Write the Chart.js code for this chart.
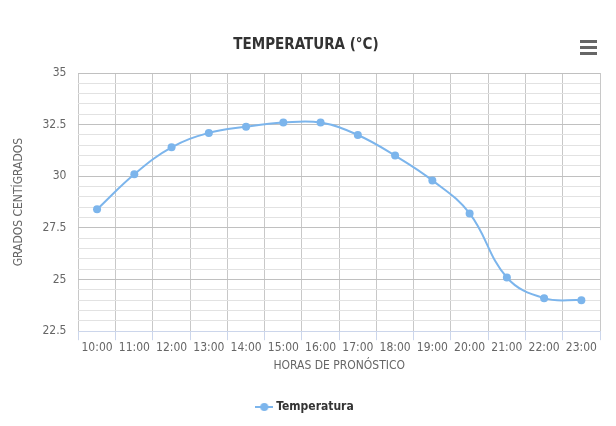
<!DOCTYPE html>
<html lang="es">
<head>
    <meta charset="UTF-8">
    <title>Temperatura</title>
    <script src="https://cdn.jsdelivr.net/npm/chart.js@4.4.0/dist/chart.umd.min.js"></script>
    <style>
        body { margin: 0; background: #fff; }
        #wrap { position: relative; width: 616px; height: 426px; }
        .menu { position: absolute; left: 580px; top: 40px; width: 17px; }
        .menu span { display: block; height: 3px; background: #666; margin-bottom: 3px; }
    </style>
</head>
<body>
    <div id="wrap">
        <canvas id="tempChart"></canvas>
        <div class="menu"><span></span><span></span><span></span></div>
    </div>

    <script>
        const horas = ['10:00', '11:00', '12:00', '13:00', '14:00', '15:00', '16:00',
                       '17:00', '18:00', '19:00', '20:00', '21:00', '22:00', '23:00'];
        const temperatura = [28.4, 30.1, 31.4, 32.1, 32.4, 32.6, 32.6,
                             32.0, 31.0, 29.8, 28.2, 25.1, 24.1, 24.0];
        const yMin = 22.5;
        const yMax = 35;

        const FONT = "'Liberation Sans Narrow', 'DejaVu Sans Condensed', sans-serif";
        const lineColor = '#7cb5ec';

        // small legend icon: line with a dot in the middle
        function legendIcon() {
            const c = document.createElement('canvas');
            c.width = 18; c.height = 10;
            const g = c.getContext('2d');
            g.strokeStyle = lineColor;
            g.lineWidth = 2;
            g.beginPath(); g.moveTo(0, 5); g.lineTo(18, 5); g.stroke();
            g.fillStyle = lineColor;
            g.beginPath(); g.arc(9, 5, 4, 0, Math.PI * 2); g.fill();
            return c;
        }

        function isMajor(v) {
            return Math.abs(v / 2.5 - Math.round(v / 2.5)) < 1e-6;
        }

        const ctx = document.getElementById('tempChart');
        new Chart(ctx, {
            type: 'line',
            data: {
                labels: horas,
                datasets: [{
                    label: 'Temperatura',
                    data: temperatura,
                    borderColor: lineColor,
                    backgroundColor: lineColor,
                    borderWidth: 2,
                    tension: 0.4,
                    pointRadius: 4,
                    pointBackgroundColor: lineColor,
                    pointBorderWidth: 0
                }]
            },
            options: {
                responsive: true,
                maintainAspectRatio: false,
                animation: false,
                layout: { padding: { left: 12, right: 16, top: 36, bottom: 3 } },
                plugins: {
                    title: {
                        display: true,
                        text: 'TEMPERATURA (°C)',
                        color: '#333',
                        font: { family: FONT, size: 15, weight: 'bold' },
                        padding: { top: 0, bottom: 19 }
                    },
                    legend: {
                        position: 'bottom',
                        labels: {
                            color: '#333',
                            font: { family: FONT, size: 12, weight: 'bold' },
                            usePointStyle: true,
                            padding: 14,
                            generateLabels: function(chart) {
                                const items = Chart.defaults.plugins.legend.labels.generateLabels(chart);
                                items.forEach(it => { it.pointStyle = legendIcon(); });
                                return items;
                            }
                        }
                    },
                    tooltip: { enabled: false }
                },
                scales: {
                    x: {
                        offset: true,
                        grid: {
                            offset: true,
                            color: '#c8c8c8',
                            tickColor: '#ccd6eb',
                            tickLength: 9,
                            drawTicks: true
                        },
                        border: { color: '#ccd6eb' },
                        ticks: {
                            color: '#666',
                            font: { family: FONT, size: 12 },
                            maxRotation: 0,
                            padding: 0
                        },
                        title: {
                            display: true,
                            text: 'HORAS DE PRONÓSTICO',
                            color: '#666',
                            font: { family: FONT, size: 12 },
                            padding: { top: 4, bottom: 14 }
                        }
                    },
                    y: {
                        min: yMin,
                        max: yMax,
                        grid: {
                            color: c => isMajor(c.tick.value) ? '#c0c0c0' : '#e2e2e2',
                            drawTicks: false
                        },
                        border: { display: false },
                        ticks: {
                            stepSize: 0.5,
                            autoSkip: false,
                            color: '#666',
                            font: { family: FONT, size: 12 },
                            padding: 12,
                            callback: v => isMajor(v) ? String(v) : ''
                        },
                        title: {
                            display: true,
                            text: 'GRADOS CENTÍGRADOS',
                            color: '#666',
                            font: { family: FONT, size: 12 },
                            padding: { top: 0, bottom: 4 }
                        }
                    }
                }
            }
        });
    </script>
</body>
</html>
